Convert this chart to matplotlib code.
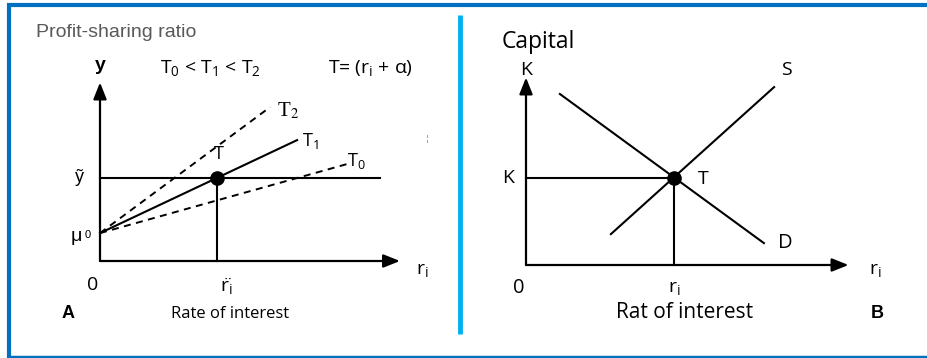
import matplotlib
matplotlib.use("Agg")
import matplotlib.pyplot as plt

plt.rcParams['mathtext.fontset'] = 'custom'
plt.rcParams['mathtext.rm'] = 'Open Sans'
plt.rcParams['mathtext.it'] = 'Open Sans:italic'

W, H = 928, 358
SCALE = 30.0  # pixels per diagram unit

# ---- panel A: profit-sharing ratio vs rate of interest ----
mu0 = 0.93          # intercept on the y axis
y_tilde = 2.77      # level of y~
r_tilde = 3.9       # equilibrium rate
t2_x = [0, 5.67]
t2_y = [0.93, 5.13]
t1_x = [0, 6.57]
t1_y = [0.93, 4.03]
t0_x = [0, 8.23]
t0_y = [0.93, 3.23]
a_xaxis_end = 10.0
a_yaxis_end = 5.95
a_hline_end = 9.33

# ---- panel B: capital supply / demand ----
k_level = 2.9
r_eq = 4.93
s_x = [2.83, 8.27]
s_y = [1.03, 5.93]
d_x = [1.13, 7.93]
d_y = [5.7, 0.73]
b_xaxis_end = 10.75
b_yaxis_end = 6.25


def panel(fig, x0, x1, ytop, ybot, ox, oy):
    ax = fig.add_axes([x0 / W, (H - ybot) / H, (x1 - x0) / W, (ybot - ytop) / H])
    ax.set_xlim((x0 - ox) / SCALE, (x1 - ox) / SCALE)
    ax.set_ylim((oy - ybot) / SCALE, (oy - ytop) / SCALE)
    ax.axis('off')
    return ax


def arrow_axes(ax, xend, yend):
    kw = dict(arrowstyle='-|>,head_length=1.0,head_width=0.4', color='black',
              lw=1.6, mutation_scale=10, shrinkA=0, shrinkB=0)
    ax.annotate('', xy=(xend, 0), xytext=(0, 0), arrowprops=kw)
    ax.annotate('', xy=(0, yend), xytext=(0, 0), arrowprops=kw)


fig = plt.figure(figsize=(W / 100, H / 100), dpi=100)

# frame
frame = fig.add_axes([0, 0, 1, 1])
frame.set_xlim(0, W)
frame.set_ylim(H, 0)
frame.axis('off')
frame.plot([7, W], [5, 5], color='#0070C0', lw=3, solid_capstyle='butt')
frame.plot([9, 9], [3, H], color='#0070C0', lw=3, solid_capstyle='butt')
frame.plot([7, W], [356.5, 356.5], color='#0070C0', lw=2.5, solid_capstyle='butt')
frame.plot([460.5, 460.5], [15, 334], color='#00B0F0', lw=3.5, solid_capstyle='butt')

# ---------------- panel A ----------------
ax = panel(fig, 12, 456, 10, 352, 100, 261)
arrow_axes(ax, a_xaxis_end, a_yaxis_end)
ax.plot([0, a_hline_end], [y_tilde, y_tilde], color='black', lw=1.5)
ax.plot([r_tilde, r_tilde], [0, y_tilde], color='black', lw=1.5)
ax.plot(t1_x, t1_y, color='black', lw=1.5)
ax.plot(t2_x, t2_y, color='black', lw=1.4, dashes=(3.6, 2.8))
ax.plot(t0_x, t0_y, color='black', lw=1.4, dashes=(3.6, 2.8))
ax.plot([r_tilde], [y_tilde], 'o', color='black', ms=9.5)

ax.text(-2.13, 7.63, 'Profit-sharing ratio', fontsize=14, color='#595959',
        family='Liberation Sans', va='center', ha='left')
ax.text(0.0, 6.5, 'y', fontsize=14, fontweight='bold', family='Liberation Sans',
        ha='center', va='center')
ax.text(2.0, 6.45, r'T$_0$ < T$_1$ < T$_2$', fontsize=14, family='Open Sans',
        ha='left', va='center')
ax.text(7.6, 6.45, r'T= (r$_\mathrm{i}$ + α)', fontsize=14, family='Open Sans',
        ha='left', va='center')
ax.text(5.9, 5.0, r'T$_2$', fontsize=15, family='Liberation Serif',
        math_fontfamily='stix', ha='left', va='center')
ax.text(6.73, 4.0, r'T$_1$', fontsize=13, family='Open Sans', ha='left', va='center')
ax.text(8.25, 3.33, r'T$_0$', fontsize=13, family='Open Sans', ha='left', va='center')
ax.text(3.95, 3.57, 'T', fontsize=13, family='Open Sans', ha='center', va='center')
ax.text(-0.67, 2.8, 'ỹ', fontsize=13, family='Liberation Sans', ha='center', va='center')
ax.text(-0.97, 0.82, 'μ', fontsize=14, family='Liberation Sans', ha='left', va='center')
ax.text(-0.5, 0.88, '0', fontsize=8, family='Liberation Sans', ha='left', va='center')
ax.text(-0.23, -0.8, '0', fontsize=14, family='Open Sans', ha='center', va='center')
ax.text(4.2, -0.8, 'r\u0308$_\\mathrm{i}$', fontsize=14, family='Open Sans',
        ha='center', va='center')
ax.text(10.55, -0.3, r'r$_\mathrm{i}$', fontsize=14, family='Open Sans',
        ha='left', va='center')
ax.text(4.33, -1.75, 'Rate of interest', fontsize=12, family='Open Sans',
        ha='center', va='center')
ax.text(-1.07, -1.75, 'A', fontsize=13, fontweight='bold', family='Liberation Sans',
        ha='center', va='center')
ax.text(10.93, 4.07, '¦', fontsize=6, color='#888888', ha='center', va='center')

# ---------------- panel B ----------------
bx = panel(fig, 466, 925, 10, 352, 526, 265)
arrow_axes(bx, b_xaxis_end, b_yaxis_end)
bx.plot([0, r_eq], [k_level, k_level], color='black', lw=1.5)
bx.plot([r_eq, r_eq], [0, k_level], color='black', lw=1.5)
bx.plot(s_x, s_y, color='black', lw=1.5)
bx.plot(d_x, d_y, color='black', lw=1.5)
bx.plot([r_eq], [k_level], 'o', color='black', ms=9.5)

bx.text(-0.8, 7.43, 'Capital', fontsize=16.5, family='Open Sans', ha='left', va='center')
bx.text(0.0, 6.5, 'K', fontsize=14, family='Open Sans', ha='center', va='center')
bx.text(8.67, 6.5, 'S', fontsize=14, family='Open Sans', ha='center', va='center')
bx.text(-0.6, 2.9, 'K', fontsize=14, family='Open Sans', ha='center', va='center')
bx.text(5.9, 2.85, 'T', fontsize=14, family='Open Sans', ha='center', va='center')
bx.text(8.63, 0.73, 'D', fontsize=14.5, family='Open Sans', ha='center', va='center')
bx.text(-0.23, -0.77, '0', fontsize=14.5, family='Open Sans', ha='center', va='center')
bx.text(4.93, -0.77, r'r$_\mathrm{i}$', fontsize=14, family='Open Sans',
        ha='center', va='center')
bx.text(11.43, -0.17, r'r$_\mathrm{i}$', fontsize=14, family='Open Sans',
        ha='left', va='center')
bx.text(5.3, -1.6, 'Rat of interest', fontsize=15, family='Open Sans',
        ha='center', va='center')
bx.text(11.7, -1.6, 'B', fontsize=13, fontweight='bold', family='Liberation Sans',
        ha='center', va='center')

fig.savefig('out.png', dpi=100)
